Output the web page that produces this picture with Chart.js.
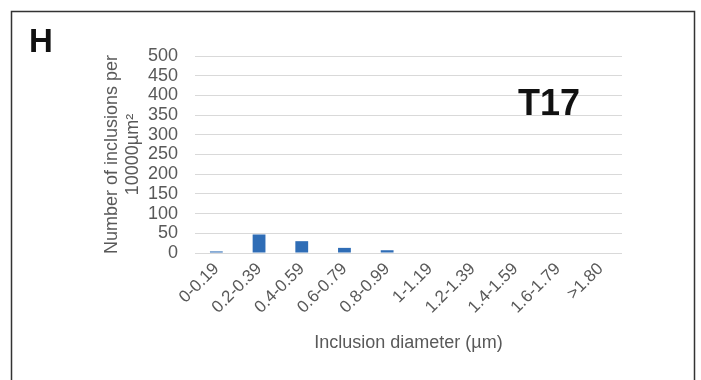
<!DOCTYPE html>
<html>
<head>
<meta charset="utf-8">
<script src="https://cdn.jsdelivr.net/npm/chart.js@4.4.1/dist/chart.umd.min.js"></script>
<style>
  html, body { margin: 0; padding: 0; background: #fff; }
  #wrap { position: relative; width: 701px; height: 380px; }
</style>
</head>
<body>
<div id="wrap"><canvas id="chart" width="701" height="380"></canvas></div>
<script>
// Inclusion size bins (µm) and counts per 10000 µm² for T17
const categories = ["0-0.19", "0.2-0.39", "0.4-0.59", "0.6-0.79", "0.8-0.99",
  "1-1.19", "1.2-1.39", "1.4-1.59", "1.6-1.79", ">1.80"];
const counts = [4, 47, 30, 13, 7, 0, 0, 0, 0, 0];
const yTicks = [0, 50, 100, 150, 200, 250, 300, 350, 400, 450, 500];

const GREY = "#595959";
const FONT = "'Liberation Sans', Arial, sans-serif";

// Frame, panel letter and sample tag
const decorations = {
  id: "decorations",
  afterDraw(chart) {
    const ctx = chart.ctx;
    ctx.save();
    ctx.strokeStyle = "#333";
    ctx.lineWidth = 1.5;
    ctx.strokeRect(11.5, 11.5, 683, 420);
    ctx.fillStyle = "#111";
    ctx.textBaseline = "alphabetic";
    ctx.textAlign = "left";
    ctx.font = "bold 33px " + FONT;
    ctx.fillText("H", 29, 52);
    ctx.font = "bold 36px " + FONT;
    ctx.fillText("T17", 518, 115);
    ctx.restore();
  },
};

new Chart(document.getElementById("chart"), {
  type: "bar",
  data: {
    labels: categories,
    datasets: [{
      data: counts,
      backgroundColor: "#2f6db6",
      barPercentage: 0.6,
      categoryPercentage: 0.5,
    }],
  },
  options: {
    responsive: false,
    animation: false,
    layout: { padding: { left: 95, right: 79, top: 56, bottom: 0 } },
    plugins: {
      legend: { display: false },
      tooltip: { enabled: false },
    },
    scales: {
      x: {
        afterFit: (scale) => { scale.height = 127; },
        grid: { display: false, drawTicks: false },
        border: { display: false },
        ticks: {
          color: GREY,
          font: { family: FONT, size: 17 },
          minRotation: 45,
          maxRotation: 45,
          autoSkip: false,
          padding: 6,
        },
        title: {
          display: true,
          text: "Inclusion diameter (µm)",
          color: GREY,
          font: { family: FONT, size: 18 },
          padding: { top: 4, bottom: 26 },
        },
      },
      y: {
        min: 0,
        max: 500,
        afterFit: (scale) => { scale.width = 100; },
        afterBuildTicks: (scale) => {
          scale.ticks = yTicks.map((v) => ({ value: v }));
        },
        grid: { color: "#d9d9d9", lineWidth: 1, drawTicks: false },
        border: { display: false },
        ticks: {
          color: GREY,
          font: { family: FONT, size: 18 },
          autoSkip: false,
          padding: 17,
        },
        title: {
          display: true,
          text: ["Number of inclusions per", "10000µm²"],
          color: GREY,
          font: { family: FONT, size: 18, lineHeight: 1.2 },
          padding: { top: 6, bottom: 0 },
        },
      },
    },
  },
  plugins: [decorations],
});
</script>
</body>
</html>
